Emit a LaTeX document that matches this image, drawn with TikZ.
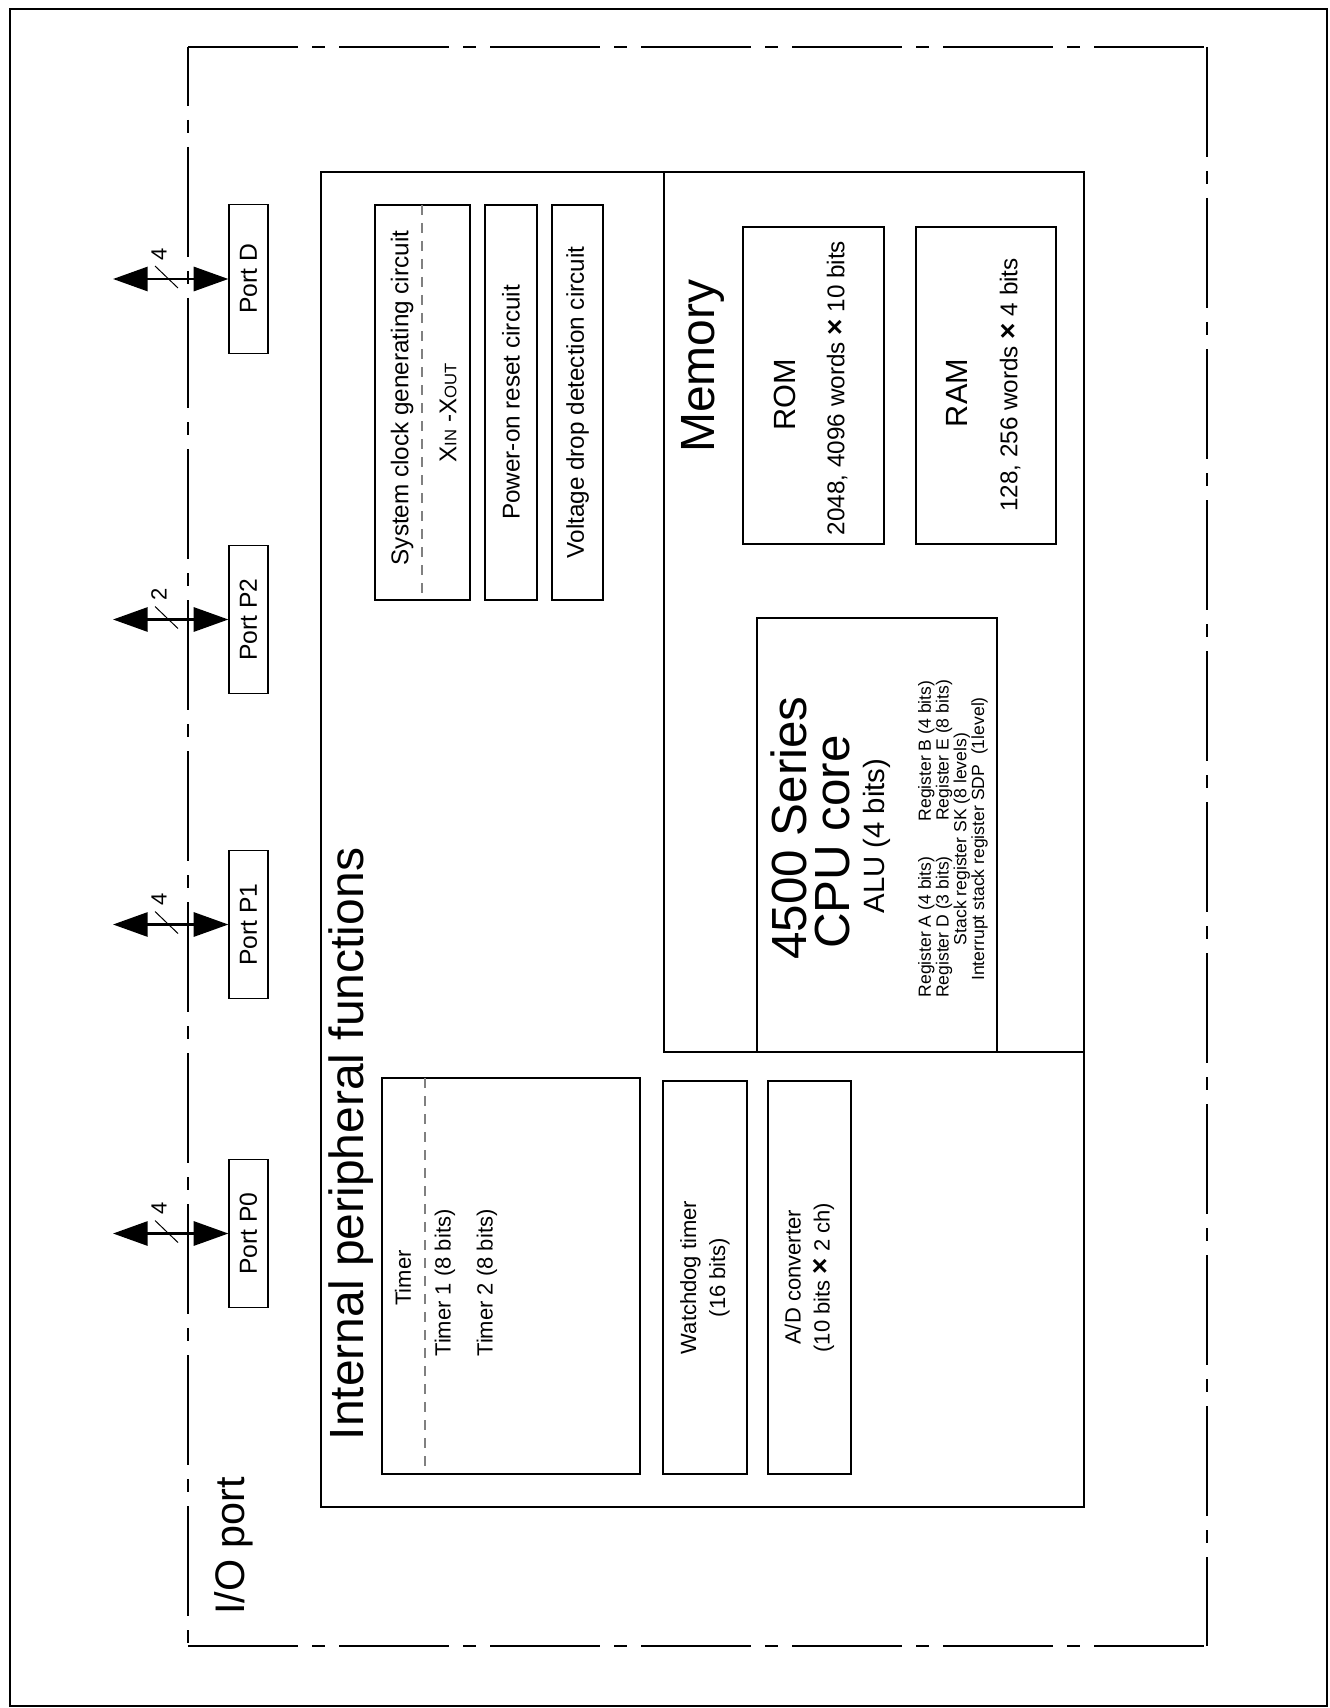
\documentclass[tikz,border=0pt]{standalone}
\usepackage{fontspec}
\setmainfont{Liberation Sans}
\usetikzlibrary{arrows.meta}

\newcommand{\by}{{\bfseries\fontsize{21}{21}\selectfont ×}}

\tikzset{
  blockbox/.style={draw, line width=0.9pt, inner sep=0pt},
  vbox/.style={blockbox, rotate=90, align=center, font=\fontsize{16.5}{21.75}\selectfont},
  portbox/.style={vbox, minimum width=111.4pt, minimum height=29.25pt, font=\fontsize{18.5}{21}\selectfont},
  vtext/.style={rotate=90, inner sep=0pt, align=center, font=\fontsize{16.5}{21.75}\selectfont},
  bigtext/.style={vtext, font=\fontsize{18.2}{21}\selectfont},
  bus/.style={{Triangle[length=26pt,width=18pt]}-{Triangle[length=26pt,width=18pt]}, line width=2.2pt},
  divider/.style={gray, line width=0.9pt, dash pattern=on 7.5pt off 6pt},
  frameline/.style={line width=1pt, dash pattern=on 82.5pt off 10.5pt on 9.75pt off 10.5pt},
}

\begin{document}
\begin{tikzpicture}[x=0.75pt, y=-0.75pt]
\useasboundingbox (0,0) rectangle (1329,1708);

	% Outer frame
  \draw[line width=2.2pt] (10,9) rectangle (1327,1706);

	% I/O port frame
  \draw[frameline] (188,47) -- (1207,47);
  \draw[frameline] (1207,47) -- (1207,1646);
  \draw[frameline] (188,1646) -- (1207,1646);
  \draw[frameline, dash phase=38.25pt] (188,47) -- (188,1646);
  \node[vtext, font=\fontsize{31}{36}\selectfont] (ioport) at (234,1546) {I/O port};

	% Ports
  \node[portbox] (portD) at (248.5,279) {Port D};
  \coordinate (busD) at (113,279);
  \draw[bus] (busD) -- (portD.north);
  \draw[line width=0.75pt] (155,266) -- (178,288);
  \node[vtext] (widthD) at (159,254) {4};

  \node[portbox] (portP2) at (248.5,619.5) {Port P2};
  \coordinate (busP2) at (113,619.5);
  \draw[bus] (busP2) -- (portP2.north);
  \draw[line width=0.75pt] (155,606.5) -- (178,628.5);
  \node[vtext] (widthP2) at (159,594.5) {2};

  \node[portbox] (portP1) at (248.5,924.5) {Port P1};
  \coordinate (busP1) at (113,924.5);
  \draw[bus] (busP1) -- (portP1.north);
  \draw[line width=0.75pt] (155,911.5) -- (178,933.5);
  \node[vtext] (widthP1) at (159,899.5) {4};

  \node[portbox] (portP0) at (248.5,1233.5) {Port P0};
  \coordinate (busP0) at (113,1233.5);
  \draw[bus] (busP0) -- (portP0.north);
  \draw[line width=0.75pt] (155,1220.5) -- (178,1242.5);
  \node[vtext] (widthP0) at (159,1208.5) {4};

	% Internal peripheral functions
  \node[blockbox, minimum width=572.25pt, minimum height=1001.25pt] (periph) at (702.5,839.5) {};
  \node[vtext, font=\fontsize{36}{40}\selectfont] (periphlabel) at (351,1144) {Internal peripheral functions};

  \node[blockbox, minimum width=71.25pt, minimum height=296.25pt] (sysclk) at (422.5,402.5) {};
  \draw[divider] (422,205) -- (422,600);
  \node[bigtext] (sysclklabel) at (402,398) {System clock generating circuit};
  \node[bigtext] (xinout) at (448,413) {X{\fontsize{12.5}{13}\selectfont IN} -X{\fontsize{12.5}{13}\selectfont OUT}};
  \node[vbox, font=\fontsize{18.2}{21}\selectfont, minimum width=296.25pt, minimum height=39pt] (poweron) at (511,402.5) {Power-on reset circuit};
  \node[vbox, font=\fontsize{18.2}{21}\selectfont, minimum width=296.25pt, minimum height=38.25pt] (vdet) at (577.5,402.5) {Voltage drop detection circuit};

  \node[blockbox, minimum width=193.5pt, minimum height=297pt] (timer) at (511,1276) {};
  \draw[divider] (425,1078) -- (425,1474);
  \node[vtext] (timerlabel) at (403,1278) {Timer};
  \node[vtext] (timerone) at (445,1283) {Timer 1 (8 bits)};
  \node[vtext] (timertwo) at (487,1283) {Timer 2 (8 bits)};
  \node[vbox, minimum width=294.75pt, minimum height=63pt] (wdt) at (705,1277.5) {Watchdog timer\\(16 bits)};
  \node[vbox, minimum width=294.75pt, minimum height=62.25pt] (adc) at (809.5,1277.5) {A/D converter\\(10 bits \by{} 2 ch)};

	% Memory
  \node[blockbox, minimum width=315pt, minimum height=660pt] (mem) at (874,612) {};
  \node[vtext, font=\fontsize{36}{40}\selectfont] (memlabel) at (703,366) {Memory};
  \node[blockbox, minimum width=105.75pt, minimum height=237.75pt] (rom) at (813.5,385.5) {};
  \node[vtext, font=\fontsize{23}{26}\selectfont] (romlabel) at (785,395) {ROM};
  \node[bigtext] (romsize) at (837,388) {2048, 4096 words \by{} 10 bits};
  \node[blockbox, minimum width=105pt, minimum height=237.75pt] (ram) at (986,385.5) {};
  \node[vtext, font=\fontsize{23}{26}\selectfont] (ramlabel) at (957,393) {RAM};
  \node[bigtext] (ramsize) at (1010,385) {128, 256 words \by{} 4 bits};

	% CPU core
  \node[blockbox, minimum width=180pt, minimum height=325.5pt] (cpu) at (877,835) {};
  \node[vtext, font=\fontsize{37}{40}\selectfont] (cpuname) at (789,828) {4500 Series};
  \node[vtext, font=\fontsize{37}{40}\selectfont] (cpucore) at (833,842) {CPU core};
  \node[vtext, font=\fontsize{22}{24}\selectfont] (alu) at (877,836) {ALU (4 bits)};
  \node[vtext, font=\fontsize{13.2}{10.8}\selectfont] (regs) at (953,839) {Register A (4 bits)\hspace{2em}Register B (4 bits)\\Register D (3 bits)\hspace{2em}Register E (8 bits)\\Stack register SK (8 levels)\\Interrupt stack register SDP\ \ (1level)};

\end{tikzpicture}
\end{document}
